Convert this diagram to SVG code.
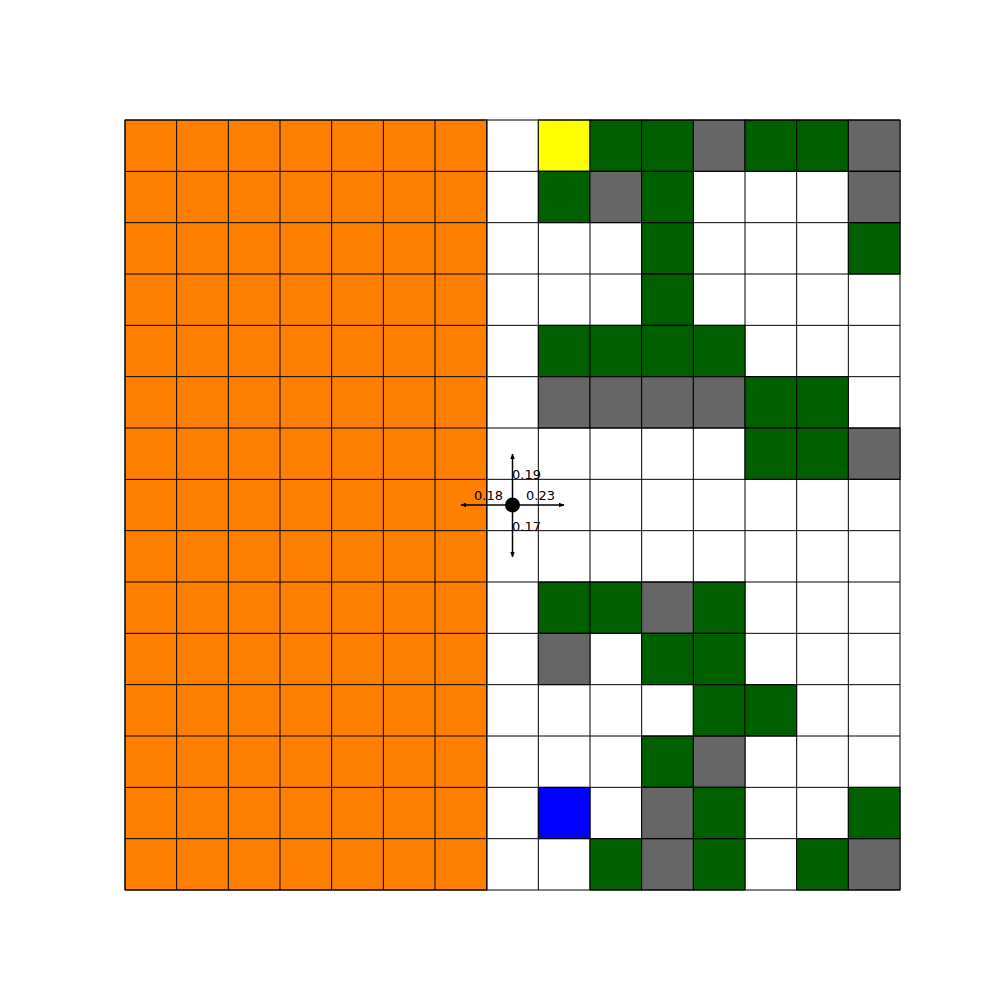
<svg xmlns="http://www.w3.org/2000/svg" width="1000" height="1000" viewBox="0 0 1000 1000">
<defs>
<style>
.c rect{stroke:#000;stroke-width:1}
.o{fill:#ff8000}.w{fill:#fff}.g{fill:#006000}.y{fill:#ffff00}.s{fill:#666}.b{fill:#0000ff}
text{font-family:"DejaVu Sans",sans-serif;font-size:13px;fill:#000}
.ar{stroke:#000;stroke-width:1.5;fill:none}
</style>
<marker id="ah" viewBox="0 0 10 10" refX="9" refY="5" markerWidth="4" markerHeight="4" orient="auto"><path d="M0,1 L10,5 L0,9 z" fill="#000"/></marker>
</defs>
<rect width="1000" height="1000" fill="#fff"/>
<g id="grid" class="c">
<g id="orange">
<rect class="o" x="125" y="120" width="362" height="770"/>
</g>
</g>
<g id="cells" class="c"></g>
<g id="gridlines" stroke="#000" stroke-width="1">
<path d="M125,120V890M176.67,120V890M228.33,120V890M280,120V890M331.67,120V890M383.33,120V890M435,120V890M486.67,120V890M538.33,120V890M590,120V890M641.67,120V890M693.33,120V890M745,120V890M796.67,120V890M848.33,120V890M900,120V890"/>
</g>
<g id="colored" class="c">
<rect class="y" x="538.33" y="120" width="51.67" height="51.33"/>
<rect class="g" x="590" y="120" width="51.67" height="51.33"/>
<rect class="g" x="641.67" y="120" width="51.67" height="51.33"/>
<rect class="s" x="693.33" y="120" width="51.67" height="51.33"/>
<rect class="g" x="745" y="120" width="51.67" height="51.33"/>
<rect class="g" x="796.67" y="120" width="51.67" height="51.33"/>
<rect class="s" x="848.33" y="120" width="51.67" height="51.33"/>
<rect class="g" x="538.33" y="171.33" width="51.67" height="51.33"/>
<rect class="s" x="590" y="171.33" width="51.67" height="51.33"/>
<rect class="g" x="641.67" y="171.33" width="51.67" height="51.33"/>
<rect class="s" x="848.33" y="171.33" width="51.67" height="51.33"/>
<rect class="g" x="641.67" y="222.67" width="51.67" height="51.33"/>
<rect class="g" x="848.33" y="222.67" width="51.67" height="51.33"/>
<rect class="g" x="641.67" y="274" width="51.67" height="51.33"/>
<rect class="g" x="538.33" y="325.33" width="51.67" height="51.33"/>
<rect class="g" x="590" y="325.33" width="51.67" height="51.33"/>
<rect class="g" x="641.67" y="325.33" width="51.67" height="51.33"/>
<rect class="g" x="693.33" y="325.33" width="51.67" height="51.33"/>
<rect class="s" x="538.33" y="376.67" width="51.67" height="51.33"/>
<rect class="s" x="590" y="376.67" width="51.67" height="51.33"/>
<rect class="s" x="641.67" y="376.67" width="51.67" height="51.33"/>
<rect class="s" x="693.33" y="376.67" width="51.67" height="51.33"/>
<rect class="g" x="745" y="376.67" width="51.67" height="51.33"/>
<rect class="g" x="796.67" y="376.67" width="51.67" height="51.33"/>
<rect class="g" x="745" y="428" width="51.67" height="51.33"/>
<rect class="g" x="796.67" y="428" width="51.67" height="51.33"/>
<rect class="s" x="848.33" y="428" width="51.67" height="51.33"/>
<rect class="g" x="538.33" y="582" width="51.67" height="51.33"/>
<rect class="g" x="590" y="582" width="51.67" height="51.33"/>
<rect class="s" x="641.67" y="582" width="51.67" height="51.33"/>
<rect class="g" x="693.33" y="582" width="51.67" height="51.33"/>
<rect class="s" x="538.33" y="633.33" width="51.67" height="51.33"/>
<rect class="g" x="641.67" y="633.33" width="51.67" height="51.33"/>
<rect class="g" x="693.33" y="633.33" width="51.67" height="51.33"/>
<rect class="g" x="693.33" y="684.67" width="51.67" height="51.33"/>
<rect class="g" x="745" y="684.67" width="51.67" height="51.33"/>
<rect class="g" x="641.67" y="736" width="51.67" height="51.33"/>
<rect class="s" x="693.33" y="736" width="51.67" height="51.33"/>
<rect class="b" x="538.33" y="787.33" width="51.67" height="51.33"/>
<rect class="s" x="641.67" y="787.33" width="51.67" height="51.33"/>
<rect class="g" x="693.33" y="787.33" width="51.67" height="51.33"/>
<rect class="g" x="848.33" y="787.33" width="51.67" height="51.33"/>
<rect class="g" x="590" y="838.67" width="51.67" height="51.33"/>
<rect class="s" x="641.67" y="838.67" width="51.67" height="51.33"/>
<rect class="g" x="693.33" y="838.67" width="51.67" height="51.33"/>
<rect class="g" x="796.67" y="838.67" width="51.67" height="51.33"/>
<rect class="s" x="848.33" y="838.67" width="51.67" height="51.33"/>
</g>
<g id="hlines" stroke="#000" stroke-width="1">
<path d="M125,120H900M125,171.33H900M125,222.67H900M125,274H900M125,325.33H900M125,376.67H900M125,428H900M125,479.33H900M125,530.67H900M125,582H900M125,633.33H900M125,684.67H900M125,736H900M125,787.33H900M125,838.67H900M125,890H900"/>
</g>
<g id="connectors">
<line class="ar" x1="512.5" y1="505" x2="512.5" y2="454" marker-end="url(#ah)"/>
<line class="ar" x1="512.5" y1="505" x2="512.5" y2="557" marker-end="url(#ah)"/>
<line class="ar" x1="512.5" y1="505" x2="461" y2="505" marker-end="url(#ah)"/>
<line class="ar" x1="512.5" y1="505" x2="564" y2="505" marker-end="url(#ah)"/>
</g>
<g id="agent">
<circle cx="512.5" cy="505" r="7.5" fill="#000"/>
<text x="512" y="479">0.19</text>
<text x="474" y="500">0.18</text>
<text x="526" y="500">0.23</text>
<text x="512" y="531">0.17</text>
</g>
</svg>
